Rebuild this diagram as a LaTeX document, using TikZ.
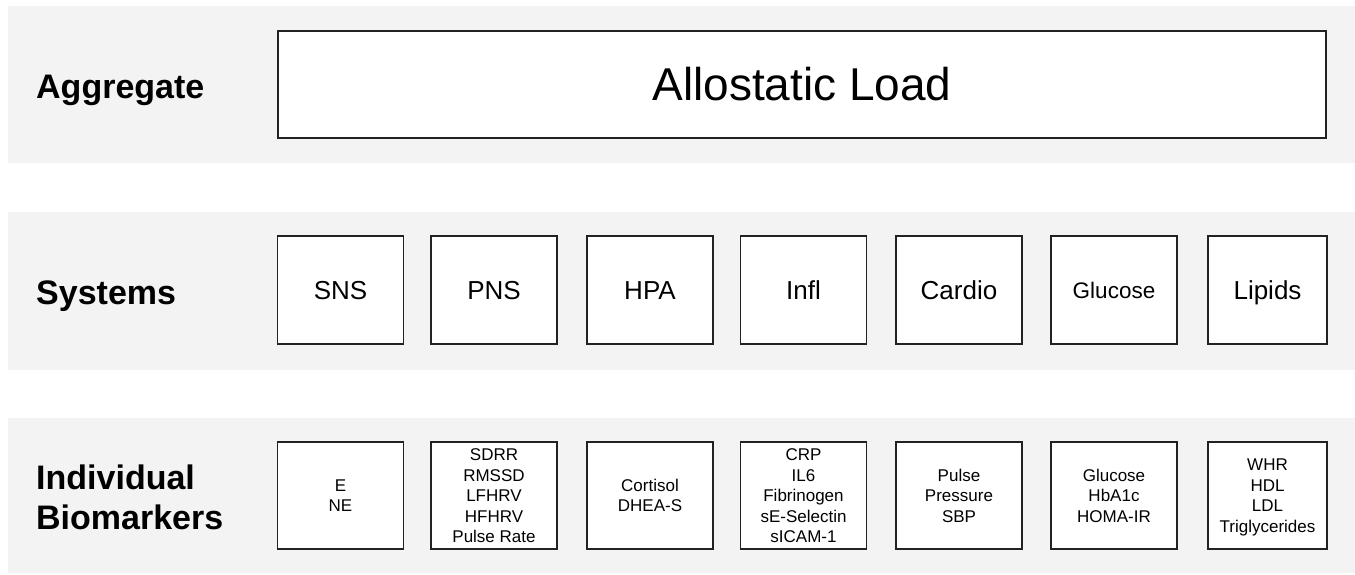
\documentclass[tikz,border=0pt]{standalone}
\usepackage{fontspec}
\setmainfont{Liberation Sans}
\newcommand\mycell[2]{\raisebox{#1}[\height][\depth]{\begin{tabular}{@{}c@{}}#2\end{tabular}}}
\definecolor{bandgray}{HTML}{F3F3F3}
\definecolor{boxline}{HTML}{222222}
\tikzset{
  band/.style={fill=bandgray, draw=none},
  rowlabel/.style={font=\fontsize{34}{40}\selectfont\bfseries, inner sep=0pt, anchor=base west},
  sysbox/.style={draw=boxline, line width=1.2pt, fill=white, inner sep=0pt,
    minimum height=108pt, minimum width=126pt, font=\fontsize{26}{31}\selectfont,
    text height=18.6pt, text depth=0pt},
  biobox/.style={draw=boxline, line width=1.2pt, fill=white, inner sep=0pt,
    minimum height=107pt, minimum width=126pt, font=\fontsize{17}{20.5}\selectfont},
  aggbox/.style={draw=boxline, line width=1.4pt, fill=white, inner sep=0pt,
    minimum height=107pt, minimum width=1048pt, font=\fontsize{46}{55}\selectfont,
    text height=32.9pt, text depth=0pt}
}
\begin{document}
\begin{tikzpicture}[x=1pt,y=-1pt]
\useasboundingbox (0,0) rectangle (1355,574);
\fill[white] (0,0) rectangle (1355,574);
% bands
\path[band] (8,6) rectangle (1355,163);
\path[band] (8,212) rectangle (1355,370);
\path[band] (8,418) rectangle (1355,573);
% row labels
\node[rowlabel] (lagg) at (36,98) {Aggregate};
\node[rowlabel] (lsys) at (36,304) {Systems};
\node[rowlabel, anchor=west] (lind) at (36,501.3) {\begin{tabular}{@{}l@{}}Individual\\Biomarkers\end{tabular}};
% aggregate
\node[aggbox] (al) at (802,84.5) {Allostatic Load};
% systems
\node[sysbox] (sns) at (340.5,290) {SNS};
\node[sysbox] (pns) at (494,290) {PNS};
\node[sysbox] (hpa) at (650,290) {HPA};
\node[sysbox] (infl) at (803.5,290) {Infl};
\node[sysbox] (cardio) at (959,290) {Cardio};
\node[sysbox, font=\fontsize{22.5}{27}\selectfont, text height=16.1pt] (gluc) at (1114,290) {Glucose};
\node[sysbox, minimum width=119pt] (lip) at (1267.5,290) {Lipids};
% biomarkers
\node[biobox] (bsns) at (340.5,495.5) {\mycell{-2pt}{E\\NE}};
\node[biobox] (bpns) at (494,495.5) {\mycell{-2pt}{SDRR\\RMSSD\\LFHRV\\HFHRV\\Pulse Rate}};
\node[biobox] (bhpa) at (650,495.5) {\mycell{-2pt}{Cortisol\\DHEA-S}};
\node[biobox] (binfl) at (803.5,495.5) {\mycell{-2pt}{CRP\\IL6\\Fibrinogen\\sE-Selectin\\sICAM-1}};
\node[biobox] (bcardio) at (959,495.5) {\mycell{-2pt}{Pulse\\Pressure\\SBP}};
\node[biobox] (bgluc) at (1114,495.5) {\mycell{-2pt}{Glucose\\HbA1c\\HOMA-IR}};
\node[biobox, minimum width=119pt] (blip) at (1267.5,495.5) {\mycell{-2pt}{WHR\\HDL\\LDL\\Triglycerides}};
\end{tikzpicture}
\end{document}
